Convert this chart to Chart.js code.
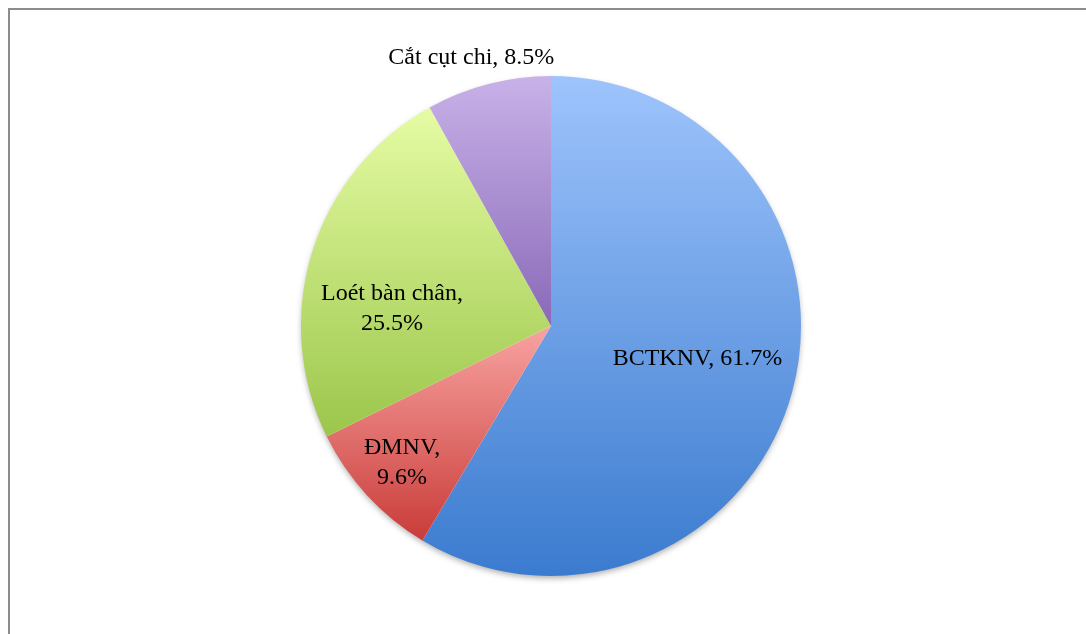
<!DOCTYPE html>
<html>
<head>
<meta charset="utf-8">
<script src="https://cdn.jsdelivr.net/npm/chart.js@4"></script>
<style>
  html, body { margin: 0; padding: 0; background: #fff; overflow: hidden; }
  #wrap { position: relative; width: 1086px; height: 634px; }
  #frame { position: absolute; left: 8px; top: 8px; width: 1100px; height: 700px;
           border-top: 2px solid #8c8c8c; border-left: 2px solid #8c8c8c; pointer-events: none; }
  canvas { position: absolute; left: 0; top: 0; }
</style>
</head>
<body>
<div id="wrap">
  <canvas id="myChart" width="1086" height="634"></canvas>
  <div id="frame"></div>
</div>
<script>
// data (labels show the original percentages)
const categories = ['BCTKNV', 'ĐMNV', 'Loét bàn chân', 'Cắt cụt chi'];
const values = [61.7, 9.6, 25.5, 8.5];
const labelLines = [
    ['BCTKNV, 61.7%'],
    ['ĐMNV,', '9.6%'],
    ['Loét bàn chân,', '25.5%'],
    ['Cắt cụt chi, 8.5%']
];

// gradient colours, light (top) to dark (bottom)
const topColors = ['#9ec4fc', '#f8a3a1', '#e6fca4', '#c8b2e8'];
const bottomColors = ['#3b7bcf', '#c93c39', '#9bc64b', '#8a69b8'];

// label placement: radius fraction and angle tweak (degrees)
const labelRadius = [0.60, 0.81, 0.64, 1.12];
const labelAngleShift = [-3, 0, -11, -2];

function sliceAngles(i) {
    const total = values.reduce((a, b) => a + b, 0);
    let before = 0;
    for (let k = 0; k < i; k++) before += values[k];
    const start = -Math.PI / 2 + before / total * 2 * Math.PI;
    const end = start + values[i] / total * 2 * Math.PI;
    return [start, end];
}

function sliceGradient(context) {
    const chart = context.chart;
    const area = chart.chartArea;
    const i = context.dataIndex;
    if (!area) return topColors[i];
    const cx = (area.left + area.right) / 2;
    const cy = (area.top + area.bottom) / 2;
    const r = Math.min(area.right - area.left, area.bottom - area.top) / 2;
    const [s, e] = sliceAngles(i);
    const ys = [cy, cy + r * Math.sin(s), cy + r * Math.sin(e)];
    [-Math.PI / 2, Math.PI / 2, 3 * Math.PI / 2].forEach(a => {
        if (a >= s && a <= e) ys.push(cy + r * Math.sin(a));
    });
    const y0 = Math.min(...ys), y1 = Math.max(...ys);
    const g = chart.ctx.createLinearGradient(0, y0, 0, y1);
    g.addColorStop(0, topColors[i]);
    g.addColorStop(1, bottomColors[i]);
    return g;
}

// soft shadow under the pie
const shadowPlugin = {
    id: 'pieShadow',
    beforeDatasetsDraw(chart) {
        const arc = chart.getDatasetMeta(0).data[0];
        if (!arc) return;
        const ctx = chart.ctx;
        ctx.save();
        ctx.shadowColor = 'rgba(0,0,0,0.35)';
        ctx.shadowBlur = 6;
        ctx.shadowOffsetY = 3;
        ctx.fillStyle = '#ffffff';
        ctx.beginPath();
        ctx.arc(arc.x, arc.y, arc.outerRadius - 1, 0, 2 * Math.PI);
        ctx.fill();
        ctx.restore();
    }
};

const labelPlugin = {
    id: 'sliceLabels',
    afterDatasetsDraw(chart) {
        const ctx = chart.ctx;
        const meta = chart.getDatasetMeta(0);
        ctx.save();
        ctx.font = '24px "Liberation Serif", serif';
        ctx.fillStyle = '#000';
        ctx.textAlign = 'center';
        ctx.textBaseline = 'middle';
        meta.data.forEach((arc, i) => {
            const mid = (arc.startAngle + arc.endAngle) / 2 + labelAngleShift[i] * Math.PI / 180;
            const rr = arc.outerRadius * labelRadius[i];
            const x = arc.x + Math.cos(mid) * rr;
            const y = arc.y + Math.sin(mid) * rr;
            const lines = labelLines[i];
            const lh = 30;
            lines.forEach((t, k) => {
                ctx.fillText(t, x, y + (k - (lines.length - 1) / 2) * lh);
            });
        });
        ctx.restore();
    }
};

const ctx = document.getElementById('myChart').getContext('2d');
new Chart(ctx, {
    type: 'pie',
    data: {
        labels: categories,
        datasets: [{
            data: values,
            backgroundColor: sliceGradient,
            borderWidth: 0
        }]
    },
    options: {
        responsive: false,
        animation: false,
        layout: {
            padding: { top: 76, bottom: 58, left: 301, right: 285 }
        },
        plugins: {
            legend: { display: false },
            tooltip: { enabled: false }
        }
    },
    plugins: [shadowPlugin, labelPlugin]
});
</script>
</body>
</html>
